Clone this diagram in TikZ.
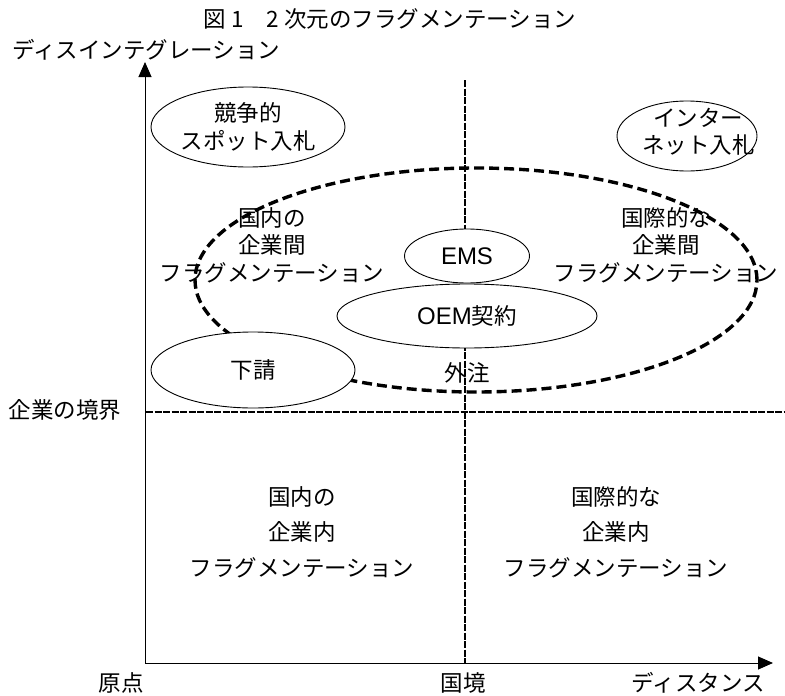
\documentclass[tikz,border=0pt]{standalone}
\usepackage{fontspec}
\setmainfont{Noto Sans CJK JP}
\newfontfamily\lat{Liberation Sans}
\usetikzlibrary{shapes.geometric,arrows.meta}
\tikzset{
  lbl/.style={font=\fontsize{22.5}{27.5}\selectfont, inner sep=0pt, align=center},
  lblq/.style={font=\fontsize{22.5}{35.5}\selectfont, inner sep=0pt, align=center},
  oval/.style={ellipse, draw, line width=0.9pt, fill=white, inner sep=0pt,
    font=\fontsize{22.5}{27.5}\selectfont, align=center},
  axis/.style={line width=1pt, -{Triangle[length=15pt,width=13pt]}},
  bound/.style={line width=2.2pt, dash pattern=on 7pt off 1.5pt},
  bigdash/.style={ellipse, draw, line width=3.4pt, dash pattern=on 10pt off 5pt, inner sep=0pt}
}
\begin{document}
\begin{tikzpicture}[x=1pt,y=-1pt]
\useasboundingbox (0,0) rectangle (785,696);
% title and axis labels
\node[lbl] (title) at (390,19) {図 1　2 次元のフラグメンテーション};
\node[lbl, anchor=west] (ylab) at (12,50) {ディスインテグレーション};
\node[lbl] (orig) at (121,683) {原点};
\node[lbl] (kokkyo) at (463,683) {国境};
\node[lbl, anchor=east] (xlab) at (765,683) {ディスタンス};
\node[lbl] (kyokai) at (65,410) {企業の境界};
% axes
\coordinate (O) at (145,663);
\coordinate (Xt) at (773,663);
\coordinate (Yt) at (145,62);
\draw[axis] (O) -- (Xt);
\draw[axis] (O) -- (Yt);
% boundaries
\coordinate (vtop) at (465,80);
\coordinate (vbot) at (465,663);
\coordinate (hl) at (146,412);
\coordinate (hr) at (784,412);
\draw[bound] (vtop) -- (vbot);
\draw[bound] (hl) -- (hr);
% big dashed ellipse
\node[bigdash, minimum width=562pt, minimum height=224pt] (big) at (476,280) {};
% quadrant texts
\node[lbl] (dominter) at (272,245) {国内の\\企業間\\フラグメンテーション};
\node[lbl] (intinter) at (666,245) {国際的な\\企業間\\フラグメンテーション};
\node[lblq] (domintra) at (302,532) {国内の\\企業内\\フラグメンテーション};
\node[lblq] (intintra) at (616,532) {国際的な\\企業内\\フラグメンテーション};
% ovals
\node[oval, minimum width=194pt, minimum height=80pt] (spot) at (248,127) {競争的\\スポット入札};
\node[oval, minimum width=140pt, minimum height=70pt] (net) at (687,136) {};
\node[lbl, anchor=west] (nettext1) at (653,118) {インター};
\node[lbl, anchor=west] (nettext2) at (642,145) {ネット入札};
\node[oval, minimum width=125pt, minimum height=54pt] (ems) at (467,256) {\lat\fontsize{24}{28}\selectfont EMS};
\node[oval, minimum width=260pt, minimum height=64pt] (oem) at (467,316) {{\lat\fontsize{24}{28}\selectfont OEM}契約};
\node[oval, minimum width=204pt, minimum height=76pt] (shita) at (253,370) {下請};
\node[lbl] (gaichu) at (467,373) {外注};
\end{tikzpicture}
\end{document}
